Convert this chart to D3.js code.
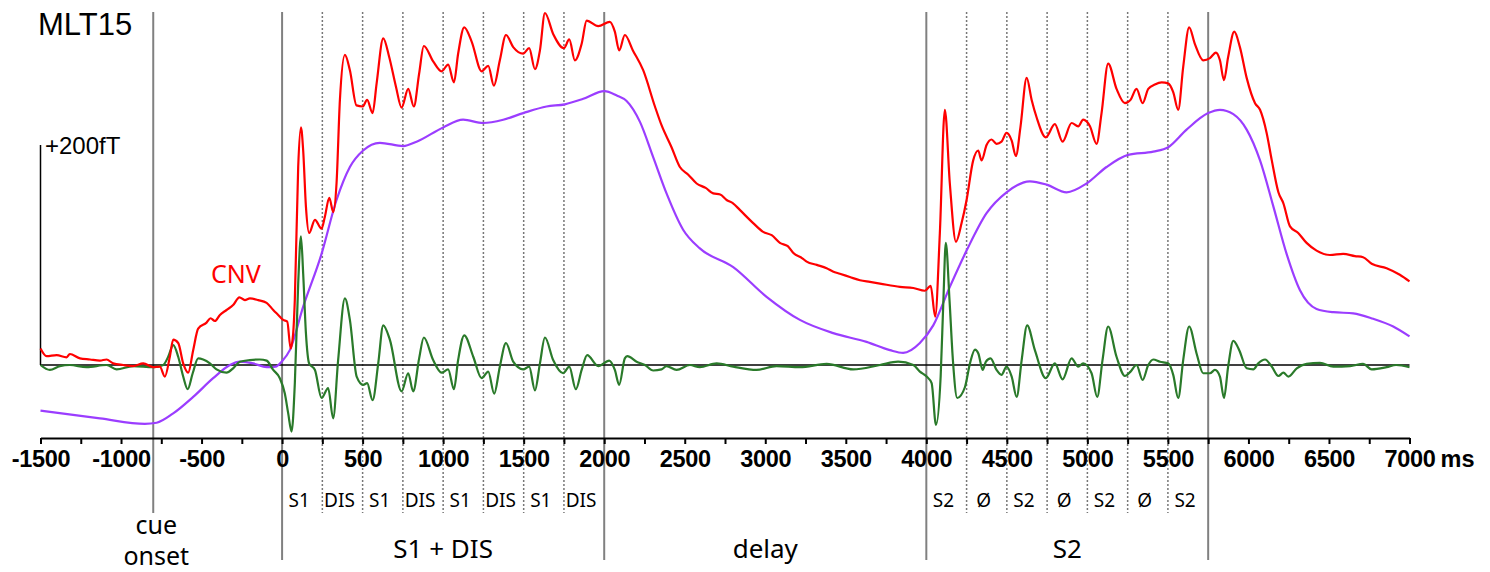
<!DOCTYPE html>
<html>
<head>
<meta charset="utf-8">
<script src="https://cdn.jsdelivr.net/npm/d3@7"></script>
<style>
  body { margin: 0; background: #fff; }
</style>
</head>
<body>
<div id="chart"></div>
<script>
// data (ms / fT)
const redTimes = [-1500,-1462,-1400,-1338,-1318,-1255,-1193,-1131,-1090,-1049,-987,-925,-862,-800,-759,-728,-697,-676,-645,-614,-583,-552,-521,-469,-444,-417,-386,-345,-304,-265,-231,-200,-148,-96,-55,-24,7,32,53,69,79,100,117,131,148,168,204,245,266,293,318,338,359,390,421,462,500,528,562,587,628,665,707,742,783,818,851,880,938,990,1031,1067,1093,1131,1177,1239,1280,1315,1352,1390,1435,1497,1534,1570,1601,1632,1683,1750,1783,1818,1860,1891,1963,2035,2066,2093,2128,2178,2242,2315,2356,2418,2470,2522,2574,2630,2677,2720,2760,2800,2842,2925,2987,3040,3091,3140,3173,3230,3257,3320,3381,3420,3463,3525,3588,3650,3712,3836,3919,3991,4027,4055,4084,4115,4146,4184,4219,4250,4291,4322,4343,4374,4405,4436,4467,4498,4530,4556,4585,4623,4654,4685,4742,4798,4846,4902,4943,4974,5016,5057,5088,5129,5181,5233,5268,5305,5343,5378,5419,5461,5502,5533,5564,5595,5632,5667,5719,5761,5798,5823,5848,5874,5912,5947,5989,6041,6072,6113,6145,6186,6217,6258,6309,6361,6423,6506,6588,6661,6712,6765,6858,6940,7000];
const redValues = [15,8,9,7,10,6,5,4,5,1.5,0,-1,1.5,-2,-1.5,-10.5,7.5,23,20,1.5,-7,13.5,33,38.5,42.5,40,45.5,50,54.5,61.5,59,60.5,59,56.5,50,45.5,41,39.5,15,29,59,180,216,195,144,120,132,124,135,152,139,165,241,282,268,236,235,241,229,256,297,280,253,234,251,235,265,290,276,267,273,257,283,307,294,267,272,254,277,300,289,283,288,269,286,320,301,288,296,277,292,313,308,312,303,286,300,286,268,235,218,198,180,173,165,161,156,155,150,147,141,129,121,118,111,108,102,97,94,91,88,85,83,80,77,75.5,74,71,70,67.5,72,44,120,232,165,112,129,150,186,195,186,200,205,201,203,211,204,190,217,261,241,225,207,219,203,220,217,223,217,201,229,274,251,238,241,251,238,251,255,257,256,248,232,271,307,292,277,279,284,277,259,280,303,289,261,238,232,211,186,157,147,126,120,111,104,100,101,99,98,92,88,82,76];

const purpleTimes = [-1500,-1131,-852,-779,-676,-552,-428,-324,-262,-179,-96,-40,-3,48,131,245,338,421,503,607,752,835,1000,1124,1248,1373,1497,1642,1756,1870,2001,2078,2139,2222,2304,2387,2490,2594,2801,3008,3215,3422,3629,3774,3856,3960,4043,4146,4250,4374,4498,4643,4747,4871,4995,5119,5253,5409,5502,5616,5750,5823,5906,5989,6072,6155,6237,6320,6423,6527,6651,6775,6899,7000];
const purpleValues = [-41.5,-48.5,-53.5,-52.5,-44,-29,-12,0,3,1.5,-2,-1.5,3,13.5,53,101,150,180,195,202,199,203,216,223,220,223,229,235,237,242,249,245,240,221,189,156,123,106,89,62,41,29,21,13.5,11,20,36,71,104,138,157,167,164,157,165,180,191,194,198,214,229,232,228,214,186,144,101,68,51,48,47,42,35,26];

const greenTimes = [-1500,-1442,-1380,-1318,-1214,-1090,-1028,-925,-800,-738,-707,-676,-645,-614,-586,-555,-521,-490,-448,-407,-345,-304,-262,-200,-138,-96,-55,-14,17,38,59,79,100,117,131,148,168,204,245,286,317,348,390,421,463,504,528,562,597,628,669,742,783,814,851,880,938,990,1031,1067,1093,1131,1187,1239,1280,1317,1352,1390,1435,1497,1534,1570,1601,1632,1683,1745,1783,1824,1860,1894,1963,2031,2066,2093,2128,2143,2201,2253,2304,2356,2387,2449,2532,2594,2698,2801,2946,3070,3215,3381,3546,3712,3825,3919,3960,4002,4033,4060,4089,4106,4121,4144,4165,4192,4240,4271,4302,4323,4350,4370,4399,4436,4467,4498,4530,4561,4592,4626,4674,4742,4798,4846,4902,4943,4974,5026,5061,5094,5129,5181,5233,5268,5305,5343,5378,5409,5451,5502,5533,5564,5595,5632,5678,5719,5761,5792,5823,5848,5874,5906,5943,5989,6030,6061,6103,6145,6186,6217,6248,6300,6361,6444,6527,6631,6712,6765,6858,6917,7000];
const greenValues = [0,-4.5,-1,0,-2,0,-4,-1,-2,0,7.5,18,7.5,-10.5,-22,-7.5,6,5,1.5,-4,-7,-3,3,4.5,5,4,-4.5,-12,-26,-44,-60.5,-17,74,117,83,29,1.5,-4.5,-30,-21,-48.5,4.5,60.5,41,-10.5,-18,-16.5,-32,1.5,36,23,-24,-7.5,-24,6,25,4.5,-7,-4,-22,4.5,27,7.5,-12,-6,-26,-1.5,20,3,-4,-1.5,-23,1.5,25,4.5,-7.5,-1.5,-22,-4.5,9,-1,4,-4.5,-18,6,8,3,0,-5,-4,-1,-4.5,0,-2,1.5,-1.5,-4.5,-1,-2,1,-4,0,3,0,-6,-10.5,-16.5,-54.5,-10.5,59,111,59,4.5,-30,-20,1.5,14,10.5,-4.5,3,6,-4.5,-9,-1.5,-10.5,-29,4.5,36,13.5,-12,1.5,-13,6,-1.5,1.5,-7.5,-29,4.5,35,7.5,-10,-6,0,-13.5,0,5,3,1.5,-9,-30,4.5,35,10.5,-7.5,-7.5,-4.5,-10.5,-30,-1.5,22,13.5,-3,-4,1.5,5,-1.5,-10,-7,-10.5,-3,1,2,-1.5,-1,1,-4,-2,0,-2];

const xTicks = d3.range(-1500, 7001, 250);
const eventLines = [-800, 0, 2000, 4000, 5750];
const dottedLines = [250, 500, 750, 1000, 1250, 1500, 1750, 4250, 4500, 4750, 5000, 5250, 5500];
const subStarts = [0, 250, 500, 750, 1000, 1250, 1500, 1750, 4000, 4250, 4500, 4750, 5000, 5250, 5500];
const subNames = ["S1","DIS","S1","DIS","S1","DIS","S1","DIS","S2","Ø","S2","Ø","S2","Ø","S2"];
const phaseCenters = [1000, 3000, 4875];
const phaseNames = ["S1 + DIS", "delay", "S2"];

const width = 1490;
const height = 572;
const baseY = 365;

const svg = d3.select("#chart")
.append("svg")
  .attr("width", width)
  .attr("height", height);

const x = d3.scaleLinear().domain([-1500, 7000]).range([40.5, 1409.5]);
const y = d3.scaleLinear().domain([0, 200]).range([baseY, 145]);

// vertical event lines
svg.selectAll("line.event")
.data(eventLines)
.enter()
.append("line")
.attr("class", "event")
.attr("x1", d => x(d)).attr("x2", d => x(d))
.attr("y1", 12)
.attr("y2", d => d < 0 ? 513 : 560)
.attr("stroke", "#808080")
.attr("stroke-width", 2);

svg.selectAll("line.dot")
.data(dottedLines)
.enter()
.append("line")
.attr("class", "dot")
.attr("x1", d => x(d)).attr("x2", d => x(d))
.attr("y1", 12)
.attr("y2", 513)
.attr("stroke", "#777")
.attr("stroke-width", 1.5)
.attr("stroke-dasharray", "2,2");

// zero line
svg.append("line")
.attr("x1", x(-1500)).attr("x2", x(7000))
.attr("y1", y(0)).attr("y2", y(0))
.attr("stroke", "#000")
.attr("stroke-width", 1.5);

// scale bar
svg.append("line")
.attr("x1", x(-1500)).attr("x2", x(-1500))
.attr("y1", y(200)).attr("y2", y(0))
.attr("stroke", "#000")
.attr("stroke-width", 1.5);

svg.append("text")
.attr("x", 45).attr("y", 154)
.attr("font-family", "Liberation Sans, Arial, sans-serif")
.attr("font-size", 24)
.text("+200fT");

svg.append("text")
.attr("x", 38).attr("y", 35)
.attr("font-family", "Liberation Sans, Arial, sans-serif")
.attr("font-size", 31)
.text("MLT15");

// curves
const drawLine = (times, values, color) => {
  const pts = times.map((t, i) => [t, values[i]]);
  svg.append("path")
  .datum(pts)
  .attr("fill", "none")
  .attr("stroke", color)
  .attr("stroke-width", 2.2)
  .attr("stroke-linejoin", "round")
  .attr("d", d3.line().x(d => x(d[0])).y(d => y(d[1])).curve(d3.curveMonotoneX));
};
drawLine(purpleTimes, purpleValues, "#9b3dff");
drawLine(greenTimes, greenValues, "#2a7a2a");
drawLine(redTimes, redValues, "#ff0000");

svg.append("text")
.attr("x", 211).attr("y", 283)
.attr("font-family", "Noto Sans, sans-serif")
.attr("font-size", 25)
.attr("fill", "#ff0000")
.text("CNV");

// x axis
const axis = svg.append("g")
.attr("transform", "translate(0,438)")
.call(d3.axisBottom(x).tickValues(xTicks).tickSize(6).tickSizeOuter(0)
  .tickFormat(d => d % 500 === 0 ? String(d) : ""));
axis.select(".domain").attr("stroke-width", 2);
axis.selectAll(".tick line").attr("stroke-width", 2);
axis.selectAll(".tick text")
.attr("y", 29).attr("dy", null)
.attr("font-family", "Liberation Sans, Arial, sans-serif")
.attr("font-weight", "bold")
.attr("font-size", 23.5)
.attr("letter-spacing", "-0.3")
.attr("fill", "#000");

svg.append("text")
.attr("x", x(7000) + 31).attr("y", 467)
.attr("font-family", "Liberation Sans, Arial, sans-serif")
.attr("font-weight", "bold")
.attr("font-size", 23.5)
.text("ms");

// sub labels
svg.selectAll("text.sub")
.data(subStarts)
.enter()
.append("text")
.attr("class", "sub")
.attr("x", d => x(d + 125) - 3)
.attr("y", 507)
.attr("text-anchor", "middle")
.attr("font-family", "Noto Sans, sans-serif")
.attr("font-size", 19)
.text((d, i) => subNames[i]);

svg.selectAll("text.phase")
.data(phaseCenters)
.enter()
.append("text")
.attr("class", "phase")
.attr("x", d => x(d))
.attr("y", 558)
.attr("text-anchor", "middle")
.attr("font-family", "Noto Sans, sans-serif")
.attr("font-size", 26)
.text((d, i) => phaseNames[i]);

svg.append("text")
.attr("x", x(-800) + 3).attr("y", 534)
.attr("text-anchor", "middle")
.attr("font-family", "Noto Sans, sans-serif")
.attr("font-size", 25)
.text("cue");
svg.append("text")
.attr("x", x(-800) + 3).attr("y", 565)
.attr("text-anchor", "middle")
.attr("font-family", "Noto Sans, sans-serif")
.attr("font-size", 25)
.text("onset");
</script>
</body>
</html>
